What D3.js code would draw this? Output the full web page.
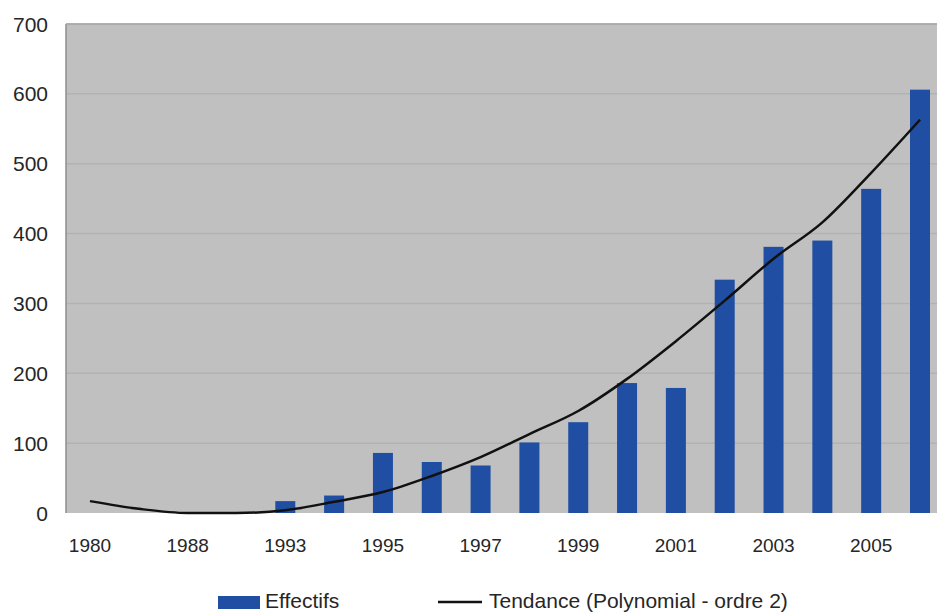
<!DOCTYPE html>
<html>
<head>
<meta charset="utf-8">
<script src="https://cdn.jsdelivr.net/npm/d3@7"></script>
<style>
  body { margin: 0; background: #fff; }
  text { font-family: "Liberation Sans", Arial, sans-serif; fill: #262626; }
</style>
</head>
<body>
<svg id="chart" width="938" height="614"></svg>
<script>
// categories (years) - only every other one gets a label
const years = ['1980', '1985', '1988', '1990', '1993', '1994', '1995', '1996', '1997',
  '1998', '1999', '2000', '2001', '2002', '2003', '2004', '2005', '2006'];
// Effectifs (bars)
const effectifs = [0, 0, 0, 0, 17, 25, 86, 73, 68, 101, 130, 186, 179, 334, 381, 390, 464, 606];
// Tendance (Polynomial - ordre 2)
const tendance = [17, 6, 0, 0, 4, 16, 30, 53, 80, 113, 146, 192, 246, 304, 364, 416, 487, 563];
const yTicks = [0, 100, 200, 300, 400, 500, 600, 700];

const svg = d3.select('#chart');
const plot = { left: 66, right: 937, top: 24, bottom: 513 };

const x = d3.scalePoint().domain(years).range([90, 920]);
const y = d3.scaleLinear().domain([0, 700]).range([plot.bottom, plot.top]);
const barW = 20;

// plot background
svg.append('rect')
  .attr('x', plot.left).attr('y', plot.top)
  .attr('width', plot.right - plot.left).attr('height', plot.bottom - plot.top)
  .attr('fill', '#c0c0c0');

// gridlines
svg.append('g').selectAll('line')
  .data(yTicks.slice(1))
  .join('line')
  .attr('x1', plot.left).attr('x2', plot.right)
  .attr('y1', d => y(d)).attr('y2', d => y(d))
  .attr('stroke', '#b2b2b2').attr('stroke-width', 1.5);

// frame lines
svg.append('line')
  .attr('x1', plot.left).attr('x2', plot.left)
  .attr('y1', plot.top).attr('y2', plot.bottom)
  .attr('stroke', '#8e8e8e').attr('stroke-width', 1.5);
svg.append('line')
  .attr('x1', plot.left).attr('x2', plot.right)
  .attr('y1', plot.top).attr('y2', plot.top)
  .attr('stroke', '#a8a8a8').attr('stroke-width', 1.5);

// y axis labels
svg.append('g').selectAll('text')
  .data(yTicks)
  .join('text')
  .attr('x', 48).attr('y', d => y(d))
  .attr('dy', '0.36em')
  .attr('text-anchor', 'end')
  .style('font-size', '21px')
  .text(d => d);

// bars
svg.append('g').selectAll('rect')
  .data(years.map((yr, i) => ({ yr, v: effectifs[i] })).filter(d => d.v > 0))
  .join('rect')
  .attr('x', d => x(d.yr) - barW / 2)
  .attr('width', barW)
  .attr('y', d => y(d.v))
  .attr('height', d => y(0) - y(d.v))
  .attr('fill', '#1f4ea3');

// trend line
const line = d3.line()
  .x(d => x(d.yr))
  .y(d => y(d.v))
  .curve(d3.curveMonotoneX);
svg.append('path')
  .datum(years.map((yr, i) => ({ yr, v: tendance[i] })))
  .attr('d', line)
  .attr('fill', 'none')
  .attr('stroke', '#111')
  .attr('stroke-width', 2.5);

// x axis labels (every other category)
svg.append('g').selectAll('text')
  .data(years.filter((d, i) => i % 2 === 0))
  .join('text')
  .attr('x', d => x(d)).attr('y', 552)
  .attr('text-anchor', 'middle')
  .style('font-size', '19px')
  .text(d => d);

// legend
const legend = svg.append('g');
legend.append('rect')
  .attr('x', 218).attr('y', 596).attr('width', 42).attr('height', 13)
  .attr('fill', '#1f4ea3');
legend.append('text')
  .attr('x', 265).attr('y', 608)
  .style('font-size', '21px')
  .text('Effectifs');
legend.append('line')
  .attr('x1', 438).attr('x2', 482).attr('y1', 602).attr('y2', 602)
  .attr('stroke', '#111').attr('stroke-width', 2.5);
legend.append('text')
  .attr('x', 489).attr('y', 608)
  .style('font-size', '21px')
  .text('Tendance (Polynomial - ordre 2)');
</script>
</body>
</html>
